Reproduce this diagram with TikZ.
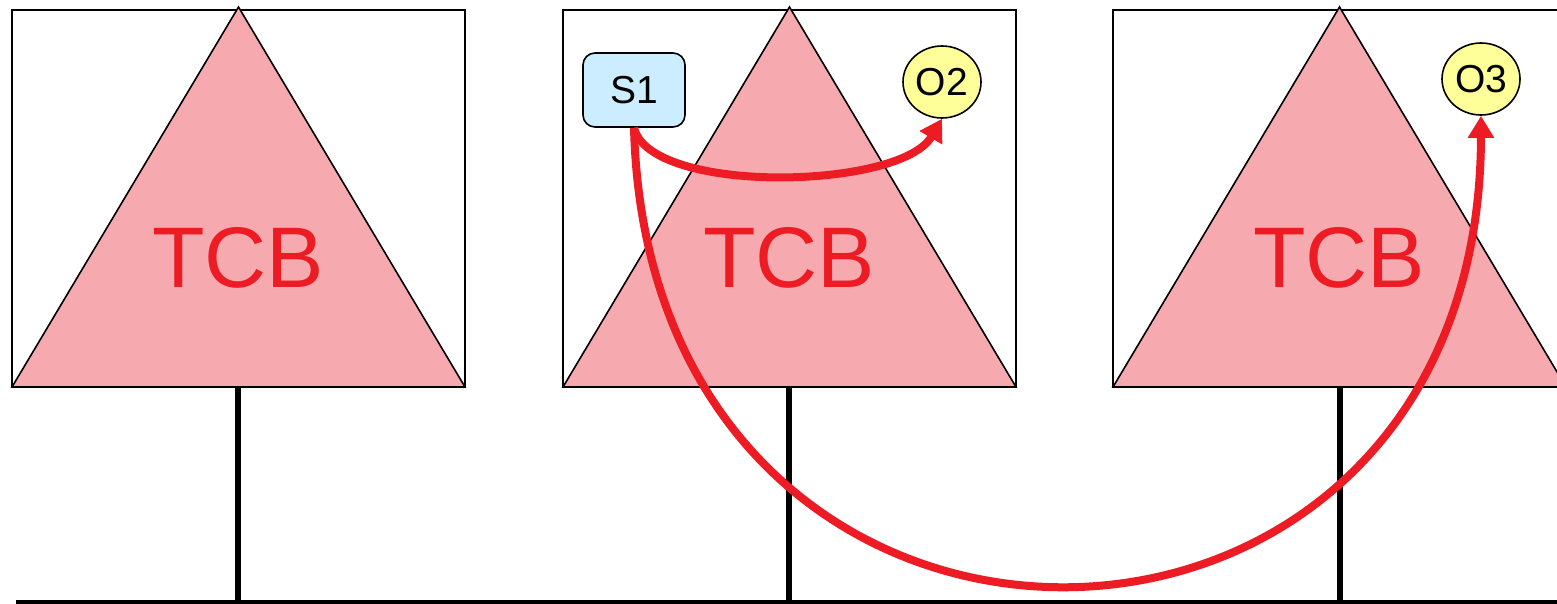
\documentclass[tikz,border=0pt]{standalone}
\usepackage{fontspec}
\setmainfont{Liberation Sans}
\usetikzlibrary{arrows.meta,shapes.geometric}
\definecolor{tcbred}{RGB}{237,28,36}
\definecolor{tcbfill}{RGB}{246,170,176}
\definecolor{subjblue}{RGB}{204,236,255}
\definecolor{objyellow}{RGB}{255,255,153}
\begin{document}
\begin{tikzpicture}[x=0.5pt,y=-0.5pt,
  hostbox/.style={draw=black,line width=1.1pt},
  tcbtri/.style={draw=black,line width=0.8pt,fill=tcbfill},
  tcblabel/.style={text=tcbred,font=\fontsize{43}{43}\selectfont,inner sep=0pt},
  stem/.style={line width=3pt,black},
  subj/.style={draw=black,line width=0.8pt,fill=subjblue,rounded corners=6pt,minimum width=51pt,minimum height=37pt,inner sep=0pt,font=\fontsize{19.5}{19.5}\selectfont},
  obj/.style={draw=black,line width=0.8pt,fill=objyellow,ellipse,minimum width=39pt,minimum height=36pt,inner sep=0pt,font=\fontsize{19.5}{19.5}\selectfont},
  flow/.style={draw=tcbred,line width=4pt,-{Triangle[length=11pt,width=12.5pt]}}
]
\useasboundingbox (0,0) rectangle (1557,604);
\begin{scope}
\clip (0,0) rectangle (1557,604);
% hosts
\foreach \i/\l in {1/12,2/563,3/1113}{
  \draw[hostbox] (\l,10) rectangle ++(453,377);
  \draw[tcbtri] (\l,387) -- ++(226.5,-380) -- ++(226.5,380) -- cycle;
  \draw[hostbox] (\l,387) -- ++(453,0);
}
\node[tcblabel] (t1) at (238,258) {TCB};
\node[tcblabel] (t2) at (789,258) {TCB};
\node[tcblabel] (t3) at (1339,258) {TCB};
% network
\coordinate (n1) at (238,602);
\coordinate (n2) at (789,602);
\coordinate (n3) at (1340,602);
\coordinate (h1) at (238,387);
\coordinate (h2) at (789,387);
\coordinate (h3) at (1340,387);
\draw[stem] (h1) -- (n1);
\draw[stem] (h2) -- (n2);
\draw[stem] (h3) -- (n3);
\coordinate (bl) at (16,602);
\coordinate (br) at (1560,602);
\draw[line width=2.4pt] (bl) -- (br);
% subject / objects
\node[subj] (s1) at (634,90) {S1};
\node[obj] (o2) at (942,82) {O2};
\node[obj] (o3) at (1481,79) {O3};
\draw[flow] (s1.south) .. controls (650,195) and (900,190) .. (o2.south);
\draw[flow] (s1.south) .. controls (650,743) and (1480,735) .. (o3.south);
\end{scope}
\end{tikzpicture}
\end{document}
